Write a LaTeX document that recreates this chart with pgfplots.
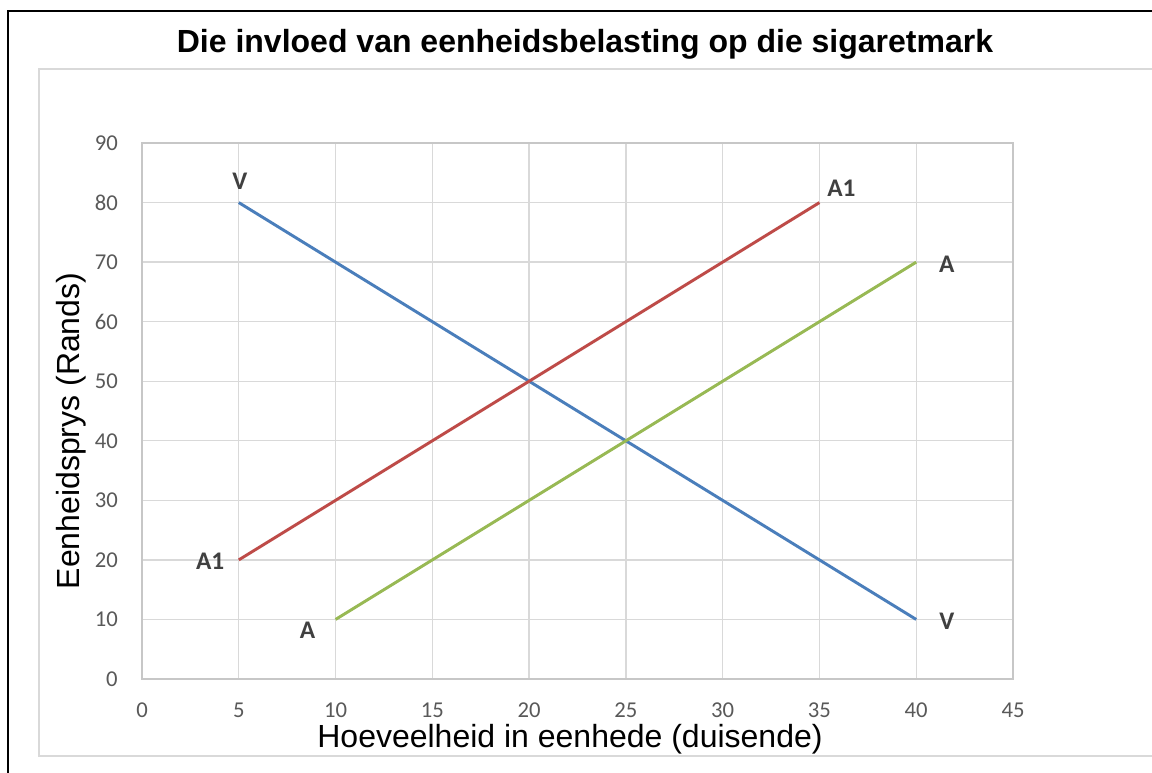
\documentclass[border=0pt]{standalone}
\usepackage{pgfplots}
\pgfplotsset{compat=1.18}
\usepackage{fontspec}
\setmainfont{Liberation Sans}
\newfontfamily\carlito{Carlito}
\definecolor{gridgray}{HTML}{D9D9D9}
\definecolor{tickgray}{HTML}{595959}
\definecolor{lblgray}{HTML}{404040}
\definecolor{sblue}{HTML}{4A7EBB}
\definecolor{sred}{HTML}{BE4B48}
\definecolor{sgreen}{HTML}{98B954}
\begin{document}
\begin{tikzpicture}[x=0.75pt,y=-0.75pt]
\useasboundingbox (0,0) rectangle (1152,772);
\clip (0,0) rectangle (1152,772);
\fill[white] (0,0) rectangle (1152,772);
\draw[black, line width=2pt] (8,1200) -- (8,11) -- (1200,11);
\draw[gridgray, line width=1.2pt] (1200,69) -- (39,69) -- (39,756) -- (1200,756);
\node[anchor=base, inner sep=0pt, font=\fontsize{24}{28}\selectfont\bfseries] at (585,52) {Die invloed van eenheidsbelasting op die sigaretmark};
\node[anchor=base, inner sep=0pt, font=\fontsize{24}{28}\selectfont] at (570,747) {Hoeveelheid in eenhede (duisende)};
\node[anchor=base, inner sep=0pt, rotate=90, font=\fontsize{24}{28}\selectfont] at (79,431) {Eenheidsprys (Rands)};
\begin{axis}[
  at={(106.5pt,-509.25pt)}, anchor=south west,
  scale only axis, width=653.25pt, height=402pt,
  xmin=0, xmax=45, ymin=0, ymax=90,
  xtick={0,5,...,45}, ytick={0,10,...,90},
  grid=major,
  grid style={gridgray, line width=1pt},
  axis line style={gridgray!80!gray, line width=1.2pt},
  major tick length=0pt,
  tick label style={font=\carlito\fontsize{17}{20}\selectfont, text=tickgray},
  /pgf/number format/assume math mode=true,
  yticklabel style={inner sep=0pt, xshift=-18pt},
  xticklabel style={inner sep=0pt, yshift=-18pt},
  clip=false,
]
\addplot[sblue, line width=2.2pt] coordinates {(5,80) (40,10)};
\addplot[sred, line width=2.2pt] coordinates {(5,20) (35,80)};
\addplot[sgreen, line width=2.2pt] coordinates {(10,10) (40,70)};
\tikzset{dl/.style={font=\carlito\bfseries\fontsize{19}{22}\selectfont, text=lblgray, inner sep=0pt}}
\node[dl, xshift=0.75pt, yshift=16pt] at (axis cs:5,80) {V};
\node[dl, xshift=23pt, yshift=-1.5pt] at (axis cs:40,10) {V};
\node[dl, xshift=16.5pt, yshift=11pt] at (axis cs:35,80) {A1};
\node[dl, xshift=23pt, yshift=-1.5pt] at (axis cs:40,70) {A};
\node[dl, xshift=-21.5pt, yshift=-1pt] at (axis cs:5,20) {A1};
\node[dl, xshift=-21pt, yshift=-8pt] at (axis cs:10,10) {A};
\end{axis}
\end{tikzpicture}
\end{document}
